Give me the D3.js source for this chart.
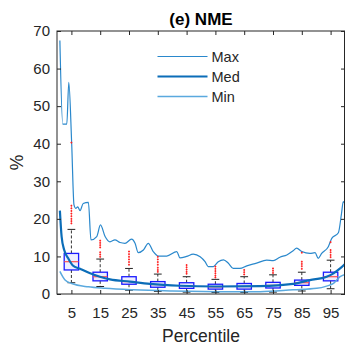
<!DOCTYPE html>
<html>
<head>
<meta charset="utf-8">
<script src="https://cdn.jsdelivr.net/npm/d3@7"></script>
<style>
  body { margin: 0; background: #fff; }
  svg { display: block; font-family: "Liberation Sans", Arial, sans-serif; }
</style>
</head>
<body>
<div class="main"></div>
<script>
// ---- data ----
const pct = [5, 15, 25, 35, 45, 55, 65, 75, 85, 95]
const q1 = [6.4, 3.5, 2.6, 1.8, 1.5, 1.3, 1.3, 1.6, 2.3, 3.5]
const q3 = [10.8, 5.8, 4.6, 3.3, 3.0, 2.6, 2.8, 3.1, 3.7, 5.8]
const median = [8.6, 4.6, 3.3, 2.5, 2.2, 1.9, 2.0, 2.3, 3.0, 4.6]
const whiskerHi = [17.2, 9.3, 6.8, 5.3, 4.6, 3.9, 4.6, 5.1, 5.8, 9.0]
const whiskerLo = [3.0, 2.0, 1.0, 0.7, 0.5, 0.4, 0.4, 0.5, 0.8, 1.4]
const outliers = [
  [40.3, 23.5, 22.8, 22.1, 21.4, 20.7, 20.0, 19.4, 18.8],
  [14.2, 13.6, 13.0, 12.4, 11.1, 10.5, 9.9],
  [11.3, 10.6, 9.9, 9.2, 8.5, 7.8],
  [9.9, 9.2, 8.5, 7.8, 7.0, 6.4, 5.9],
  [7.7, 7.1, 6.5, 5.9, 5.4],
  [7.3, 6.7, 6.1, 5.5, 4.9, 4.4],
  [6.4, 5.8, 5.2],
  [6.8, 6.2, 5.6],
  [11.0, 8.6, 8.0, 7.4, 6.7],
  [13.8, 11.7, 11.1, 10.4, 9.8]
]

const maxX = [1, 2, 3.4, 4.1, 5.1, 5.9, 6.5, 7.2, 8, 9.1, 10.9, 11.8, 13.8, 15.1, 16.7, 18.4, 20.1, 21.9, 23.6, 25.9, 27.1, 28.2, 30, 31.7, 33.4, 35.2, 38.1, 41.6, 42.7, 45, 47.3, 49.7, 51.4, 52.5, 54.3, 56, 57.8, 59.5, 61.2, 63.5, 65.9, 69.3, 72.8, 75.1, 77.4, 79.8, 82, 83.2, 85, 87.8, 89.6, 90.7, 91.9, 94.2, 95.4, 97.7, 98.8, 99.4, 100]
const maxY = [67.5, 45.2, 45.2, 56.3, 40, 23.7, 22.8, 23.2, 22.2, 24.1, 24.4, 14.4, 15.3, 18.4, 15.3, 13.9, 14.4, 13.7, 13.5, 14.6, 13.5, 11, 11.7, 13.5, 11.3, 10.1, 10.1, 11.3, 9.6, 10, 10.6, 9.9, 8.6, 7.3, 7.3, 8.6, 9.1, 8.2, 6.8, 6.8, 7.5, 8.2, 9.0, 8.9, 9.8, 10.4, 11.5, 12.2, 11.3, 10.8, 11, 9.5, 10.8, 12.6, 14.8, 16.3, 21.5, 24.6, 24.0]
const medX = [1, 1.6, 2.5, 3.9, 5.5, 8, 11.5, 14.9, 18.4, 25.3, 32.3, 42.7, 55, 70.5, 82, 87.8, 93.6, 96, 98.3, 100]
const medY = [22.2, 15.3, 11.7, 9.5, 7.6, 6.7, 5.5, 4.6, 3.9, 3.3, 2.7, 2.2, 2.0, 2.1, 2.7, 3.7, 4.6, 5.5, 6.8, 8.0]
const minX = [1, 2.8, 5.1, 10.9, 16.7, 26.5, 40, 60, 70.5, 82, 90.2, 93.6, 96, 98.3, 100]
const minY = [6.0, 3.7, 2.8, 1.9, 1.5, 1.1, 0.8, 0.6, 0.6, 1.1, 1.5, 2.1, 2.8, 4.6, 5.2]

const seriesNames = ["Max", "Med", "Min"]
const yTicks = [0, 10, 20, 30, 40, 50, 60, 70]

const W = 346, H = 346
const margin = { top: 31, right: 1, bottom: 52, left: 57 }
const ink = "#262626"

const svg = d3.select(".main").append("svg")
  .attr("width", W).attr("height", H)

const x = d3.scaleLinear().domain([0, 100]).range([margin.left, W - margin.right])
const y = d3.scaleLinear().domain([0, 70]).range([H - margin.bottom, margin.top])

// plot area clip
svg.append("clipPath").attr("id", "clip")
  .append("rect")
  .attr("x", margin.left).attr("y", margin.top)
  .attr("width", W - margin.left - margin.right)
  .attr("height", H - margin.top - margin.bottom)

const plot = svg.append("g").attr("clip-path", "url(#clip)")

// boxplots
const boxes = pct.map((p, i) => ({ p, q1: q1[i], q3: q3[i], med: median[i], hi: whiskerHi[i], lo: whiskerLo[i], out: outliers[i] }))
const bw = 5, cw = 2.7

const bg = plot.selectAll(".box").data(boxes).join("g").attr("class", "box")
bg.append("line") // upper whisker
  .attr("x1", d => x(d.p)).attr("x2", d => x(d.p))
  .attr("y1", d => y(d.q3)).attr("y2", d => y(d.hi))
  .attr("stroke", "#333").attr("stroke-dasharray", "3,2")
bg.append("line") // lower whisker
  .attr("x1", d => x(d.p)).attr("x2", d => x(d.p))
  .attr("y1", d => y(d.q1)).attr("y2", d => y(d.lo))
  .attr("stroke", "#333").attr("stroke-dasharray", "3,2")
bg.append("line")
  .attr("x1", d => x(d.p - cw / 2)).attr("x2", d => x(d.p + cw / 2))
  .attr("y1", d => y(d.hi)).attr("y2", d => y(d.hi))
  .attr("stroke", "#222")
bg.append("line")
  .attr("x1", d => x(d.p - cw / 2)).attr("x2", d => x(d.p + cw / 2))
  .attr("y1", d => y(d.lo)).attr("y2", d => y(d.lo))
  .attr("stroke", "#222")
bg.append("rect")
  .attr("x", d => x(d.p - bw / 2)).attr("width", d => x(d.p + bw / 2) - x(d.p - bw / 2))
  .attr("y", d => y(d.q3)).attr("height", d => y(d.q1) - y(d.q3))
  .attr("fill", "rgba(90,90,255,0.10)")
  .attr("stroke", "#1a1aff").attr("stroke-width", 1.3)
bg.append("line")
  .attr("x1", d => x(d.p - bw / 2)).attr("x2", d => x(d.p + bw / 2))
  .attr("y1", d => y(d.med)).attr("y2", d => y(d.med))
  .attr("stroke", "#ff5050").attr("stroke-width", 1.2)

// lines
const series = [
  { name: seriesNames[0], xs: maxX, ys: maxY, color: "#2a88cc", w: 1.2 },
  { name: seriesNames[1], xs: medX, ys: medY, color: "#0b6db8", w: 2.2 },
  { name: seriesNames[2], xs: minX, ys: minY, color: "#5aa9de", w: 1.5 }
]
const line = d3.line().x(d => x(d[0])).y(d => y(d[1])).curve(d3.curveMonotoneX)
plot.selectAll(".series").data(series).join("path")
  .attr("class", "series")
  .attr("d", s => line(s.xs.map((v, i) => [v, s.ys[i]])))
  .attr("fill", "none")
  .attr("stroke", s => s.color)
  .attr("stroke-width", s => s.w)

// outliers as small red plus marks
boxes.forEach(b => {
  plot.selectAll(null).data(b.out).join("path")
    .attr("d", v => `M${x(b.p) - 0.9},${y(v)}h1.8M${x(b.p)},${y(v) - 1}v2`)
    .attr("stroke", "#ff2020").attr("stroke-width", 1)
})

// axes (ticks inward, on all four sides)
const fs = "15px"
const gx = svg.append("g").attr("transform", `translate(0,${H - margin.bottom})`)
  .call(d3.axisBottom(x).tickValues(pct).tickSizeInner(-4).tickSizeOuter(0).tickPadding(13))
const gxt = svg.append("g").attr("transform", `translate(0,${margin.top})`)
  .call(d3.axisTop(x).tickValues(pct).tickSizeInner(-4).tickSizeOuter(0).tickFormat(""))
const gy = svg.append("g").attr("transform", `translate(${margin.left},0)`)
  .call(d3.axisLeft(y).tickValues(yTicks).tickSizeInner(-4).tickSizeOuter(0).tickPadding(7))
const gyr = svg.append("g").attr("transform", `translate(${W - margin.right},0)`)
  .call(d3.axisRight(y).tickValues(yTicks).tickSizeInner(-4).tickSizeOuter(0).tickFormat(""))

for (const g of [gx, gxt, gy, gyr]) {
  g.select(".domain").remove()
  g.selectAll("line").attr("stroke", ink)
  g.selectAll("text").attr("fill", ink).style("font-size", fs).style("font-family", "Liberation Sans, Arial, sans-serif")
}

svg.append("rect")
  .attr("x", margin.left).attr("y", margin.top)
  .attr("width", W - margin.left - margin.right - 0.5)
  .attr("height", H - margin.top - margin.bottom)
  .attr("fill", "none").attr("stroke", ink).attr("stroke-width", 1)

// labels
svg.append("text")
  .attr("x", (margin.left + W - margin.right) / 2).attr("y", 25)
  .attr("text-anchor", "middle").attr("font-weight", "bold")
  .attr("font-size", 17).attr("fill", "#000")
  .text("(e) NME")

svg.append("text")
  .attr("x", (margin.left + W - margin.right) / 2).attr("y", 342)
  .attr("text-anchor", "middle").attr("font-size", 17.5).attr("fill", ink)
  .text("Percentile")

svg.append("text")
  .attr("transform", `translate(23,${(margin.top + H - margin.bottom) / 2}) rotate(-90)`)
  .attr("text-anchor", "middle").attr("font-size", 17.5).attr("fill", ink)
  .text("%")

// legend
const leg = svg.append("g")
const legY = d3.scalePoint().domain(seriesNames).range([56.5, 96.5])
leg.selectAll("line").data(series).join("line")
  .attr("x1", 157.5).attr("x2", 207.5)
  .attr("y1", s => legY(s.name)).attr("y2", s => legY(s.name))
  .attr("stroke", s => s.color).attr("stroke-width", s => s.w)
leg.selectAll("text").data(series).join("text")
  .attr("x", 211.5).attr("y", s => legY(s.name)).attr("dy", "0.35em")
  .attr("font-size", 14.5).attr("fill", ink)
  .text(s => s.name)
</script>
</body>
</html>
